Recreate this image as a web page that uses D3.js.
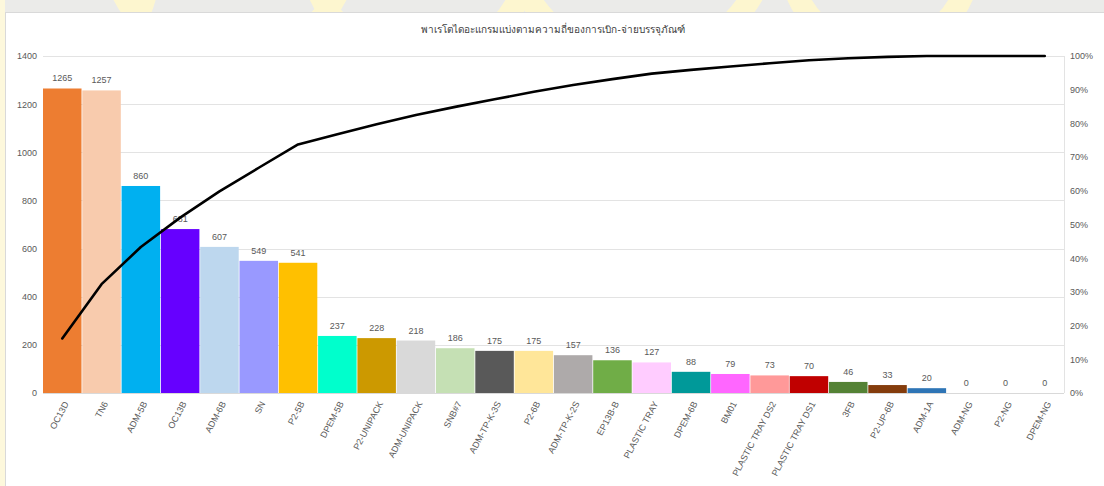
<!DOCTYPE html>
<html>
<head>
<meta charset="utf-8">
<script src="https://cdn.jsdelivr.net/npm/d3@7"></script>
<style>
  html, body { margin: 0; padding: 0; background: #fff; }
  svg { display: block; }
</style>
</head>
<body>
<script>
const width = 1104, height = 486;

// chart data
const title = "พาเรโตไดอะแกรมแบ่งตามความถี่ของการเบิก-จ่ายบรรจุภัณฑ์";
const categories = ["OC13D", "TN6", "ADM-5B", "OC13B", "ADM-6B", "SN", "P2-5B", "DPEM-5B",
  "P2-UNIPACK", "ADM-UNIPACK", "SNB#7", "ADM-TP-K-3S", "P2-6B", "ADM-TP-K-2S", "EP13B-B",
  "PLASTIC TRAY", "DPEM-6B", "BM01", "PLASTIC TRAY DS2", "PLASTIC TRAY DS1", "3FB",
  "P2-UP-6B", "ADM-1A", "ADM-NG", "P2-NG", "DPEM-NG"];
const counts = [1265, 1257, 860, 681, 607, 549, 541, 237, 228, 218, 186, 175, 175, 157, 136,
  127, 88, 79, 73, 70, 46, 33, 20, 0, 0, 0];
const barColors = ["#ED7D31", "#F8CBAD", "#00B0F0", "#6600FF", "#BDD7EE", "#9999FF", "#FFC000",
  "#00FFCC", "#CC9900", "#D9D9D9", "#C5E0B4", "#595959", "#FFE699", "#AEAAAA", "#70AD47",
  "#FFCCFF", "#009999", "#FF66FF", "#FF9999", "#C00000", "#548235", "#843C0C", "#2E75B6",
  "#A5A5A5", "#A5A5A5", "#A5A5A5"];
const leftTicks = [0, 200, 400, 600, 800, 1000, 1200, 1400];
const rightTicks = [0, 0.1, 0.2, 0.3, 0.4, 0.5, 0.6, 0.7, 0.8, 0.9, 1];

const total = d3.sum(counts);
const cumulative = d3.cumsum(counts).map(v => v / total);

const margin = {top: 56, right: 40, bottom: 93, left: 43};
const plotRight = width - margin.right;
const plotBottom = height - margin.bottom;

const svg = d3.select("body").append("svg")
    .attr("width", width)
    .attr("height", height)
    .style("font-family", "Arial, 'Liberation Sans', sans-serif");

// slide background peeking out at the top/left edge
const bg = svg.append("g");
bg.append("rect").attr("width", width).attr("height", height).attr("fill", "#ebebe9");
[[10, -40, 140], [230, -60, 120], [420, -50, 110], [640, -70, 130], [880, -40, 90]].forEach(([cx, cy, r]) => {
  bg.append("circle").attr("cx", cx).attr("cy", cy).attr("r", r)
    .attr("fill", "none").attr("stroke", "#fdf6cf").attr("stroke-width", 22);
});
bg.append("rect").attr("x", 0).attr("y", 0).attr("width", 5).attr("height", height).attr("fill", "#fdf8dc");

svg.append("rect")
    .attr("x", 5.5).attr("y", 12.5)
    .attr("width", width - 5).attr("height", height - 12)
    .attr("fill", "#fff")
    .attr("stroke", "#d9d9d9");

const x = d3.scaleBand()
    .domain(categories)
    .range([margin.left, plotRight])
    .paddingInner(0.02)
    .paddingOuter(0);

const y = d3.scaleLinear().domain([0, 1400]).range([plotBottom, margin.top]);
const yPct = d3.scaleLinear().domain([0, 1]).range([plotBottom, margin.top]);

// gridlines
svg.append("g")
  .selectAll("line")
  .data(leftTicks)
  .join("line")
    .attr("x1", margin.left).attr("x2", plotRight)
    .attr("y1", d => Math.round(y(d)) + 0.5).attr("y2", d => Math.round(y(d)) + 0.5)
    .attr("stroke", "#e3e3e3");

svg.append("line")
    .attr("x1", plotRight + 0.5).attr("x2", plotRight + 0.5)
    .attr("y1", margin.top).attr("y2", plotBottom)
    .attr("stroke", "#e3e3e3");

// left axis
const leftAxis = svg.append("g")
    .attr("transform", `translate(${margin.left - 6},0)`)
    .call(d3.axisLeft(y).tickValues(leftTicks).tickFormat(d3.format("d")).tickSize(0).tickPadding(0));
leftAxis.select(".domain").remove();
leftAxis.selectAll("text").attr("fill", "#595959").style("font-size", "9px");

// right axis
const rightAxis = svg.append("g")
    .attr("transform", `translate(${plotRight + 6},0)`)
    .call(d3.axisRight(yPct).tickValues(rightTicks).tickFormat(d3.format(".0%")).tickSize(0).tickPadding(0));
rightAxis.select(".domain").remove();
rightAxis.selectAll("text").attr("fill", "#595959").style("font-size", "9px");

// bars
svg.append("g")
  .selectAll("rect")
  .data(counts)
  .join("rect")
    .attr("x", (d, i) => x(categories[i]))
    .attr("y", d => y(d))
    .attr("width", x.bandwidth())
    .attr("height", d => plotBottom - y(d))
    .attr("fill", (d, i) => barColors[i]);

// bottom axis line
svg.append("line")
    .attr("x1", margin.left).attr("x2", plotRight)
    .attr("y1", plotBottom + 0.5).attr("y2", plotBottom + 0.5)
    .attr("stroke", "#d9d9d9");

// value labels
svg.append("g")
  .selectAll("text")
  .data(counts)
  .join("text")
    .attr("x", (d, i) => x(categories[i]) + x.bandwidth() / 2)
    .attr("y", d => y(d) - 7)
    .attr("text-anchor", "middle")
    .attr("fill", "#595959")
    .style("font-size", "9px")
    .text(d => d);

// category labels
svg.append("g")
  .selectAll("text")
  .data(categories)
  .join("text")
    .attr("transform", d => `translate(${x(d) + x.bandwidth() / 2 + 4},${plotBottom + 9}) rotate(-62)`)
    .attr("text-anchor", "end")
    .attr("dy", "0.35em")
    .attr("fill", "#595959")
    .style("font-size", "9px")
    .text(d => d);

// cumulative line
const line = d3.line()
    .x((d, i) => x(categories[i]) + x.bandwidth() / 2)
    .y(d => yPct(d));

svg.append("path")
    .datum(cumulative)
    .attr("d", line)
    .attr("fill", "none")
    .attr("stroke", "#000")
    .attr("stroke-width", 2.6)
    .attr("stroke-linejoin", "round")
    .attr("stroke-linecap", "round");

// title
svg.append("text")
    .attr("x", 553)
    .attr("y", 33)
    .attr("text-anchor", "middle")
    .attr("fill", "#404040")
    .style("font-size", "10px")
    .style("font-family", "'Noto Sans', 'DejaVu Sans', sans-serif")
    .text(title);
</script>
</body>
</html>
